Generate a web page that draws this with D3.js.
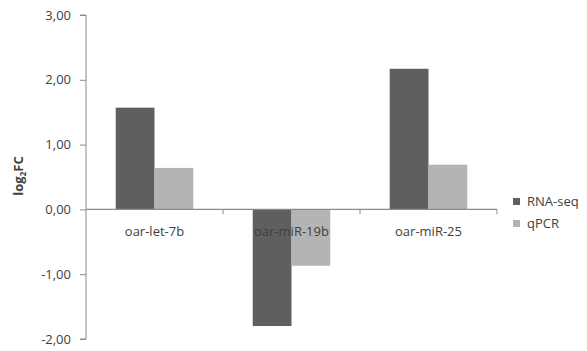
<!DOCTYPE html>
<html>
<head>
<meta charset="utf-8">
<script src="https://cdn.jsdelivr.net/npm/d3@7"></script>
<style>
  html, body { margin: 0; padding: 0; background: #fff; }
  svg { display: block; }
  text { font-family: "Open Sans", "Liberation Sans", sans-serif; fill: #404040; }
</style>
</head>
<body>
<svg id="chart" width="587" height="351"></svg>
<script>
// miRNA fold changes, sequencing vs. qPCR validation
const categories = ["oar-let-7b", "oar-miR-19b", "oar-miR-25"];
const seriesNames = ["RNA-seq", "qPCR"];
const rnaSeq = [1.57, -1.80, 2.17];
const qpcr = [0.64, -0.87, 0.69];
const yTicks = [-2, -1, 0, 1, 2, 3];

const colors = { "RNA-seq": "#5f5f5f", "qPCR": "#b4b4b4" };
const axisColor = "#8c8c8c";

const svg = d3.select("#chart");
const plot = { left: 86, right: 497, top: 15, bottom: 339 };

const y = d3.scaleLinear().domain([-2, 3]).range([plot.bottom, plot.top]);
const x0 = d3.scaleBand().domain(categories).range([plot.left, plot.right])
  .paddingInner(0.434).paddingOuter(0.217);
const x1 = d3.scaleBand().domain(seriesNames).range([0, x0.bandwidth()]);

const fmt = v => d3.format(".2f")(v).replace(".", ",").replace("\u2212", "-");

// value axis
const yAxis = svg.append("g")
  .attr("transform", `translate(${plot.left},0)`)
  .call(d3.axisLeft(y).tickValues(yTicks).tickFormat(fmt).tickSize(6).tickPadding(9));
yAxis.select(".domain").attr("stroke", axisColor).attr("d", `M-6,${plot.top}H0V${plot.bottom}H-6`);
yAxis.selectAll(".tick line").attr("stroke", axisColor);
yAxis.selectAll(".tick text").style("font-size", "13px").attr("fill", "#404040");

// bars
const rows = categories.map((c, i) => ({ cat: c, values: [
  { key: "RNA-seq", v: rnaSeq[i] }, { key: "qPCR", v: qpcr[i] } ] }));

const groups = svg.append("g").selectAll("g").data(rows).join("g")
  .attr("transform", d => `translate(${x0(d.cat)},0)`);
groups.selectAll("rect").data(d => d.values).join("rect")
  .attr("x", d => x1(d.key))
  .attr("width", x1.bandwidth())
  .attr("y", d => y(Math.max(0, d.v)))
  .attr("height", d => Math.abs(y(d.v) - y(0)))
  .attr("fill", d => colors[d.key]);

// category axis along zero
const xAxisG = svg.append("g");
xAxisG.append("line")
  .attr("x1", plot.left).attr("x2", plot.right)
  .attr("y1", y(0)).attr("y2", y(0))
  .attr("stroke", axisColor).attr("stroke-width", 1.2);
xAxisG.selectAll("line.tick").data(categories.map((c, i) => plot.left + x0.step() * (i + 1)))
  .join("line").attr("class", "tick")
  .attr("x1", d => d).attr("x2", d => d)
  .attr("y1", y(0)).attr("y2", y(0) + 5)
  .attr("stroke", axisColor);
xAxisG.selectAll("text").data(categories).join("text")
  .attr("x", d => x0(d) + x0.bandwidth() / 2)
  .attr("y", y(0) + 27)
  .attr("text-anchor", "middle")
  .style("font-size", "13px")
  .text(d => d);

// axis title
svg.append("text")
  .attr("transform", "translate(23,176) rotate(-90)")
  .attr("text-anchor", "middle")
  .style("font-size", "13px").style("font-weight", "bold")
  .call(t => {
    t.append("tspan").text("log");
    t.append("tspan").attr("dy", 3).style("font-size", "8px").text("2");
    t.append("tspan").attr("dy", -3).text("FC");
  });

// legend
const legend = svg.append("g").attr("transform", "translate(513,198)");
const li = legend.selectAll("g").data(seriesNames).join("g")
  .attr("transform", (d, i) => `translate(0,${i * 22})`);
li.append("rect").attr("width", 7).attr("height", 7).attr("fill", d => colors[d]);
li.append("text").attr("x", 14).attr("y", 8).style("font-size", "13px").text(d => d);
</script>
</body>
</html>
